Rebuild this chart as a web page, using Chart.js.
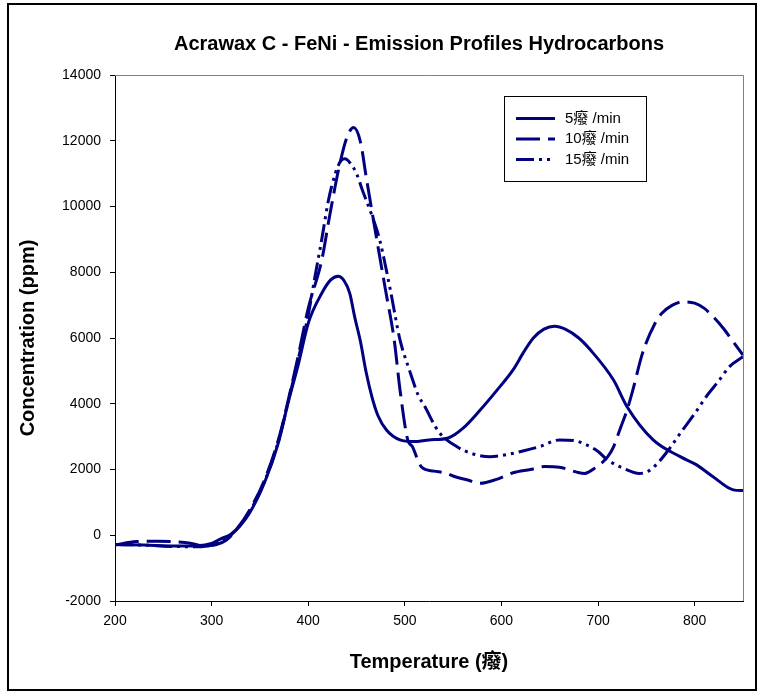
<!DOCTYPE html>
<html>
<head>
<meta charset="utf-8">
<script src="https://cdn.jsdelivr.net/npm/chart.js@4.4.1/dist/chart.umd.min.js"></script>
<style>
  html, body { margin: 0; padding: 0; background: #fff; }
  #wrap { width: 764px; height: 692px; }
</style>
</head>
<body>
<div id="wrap"><canvas id="c" width="764" height="692"></canvas></div>
<script>
// ---- data ----
const chartTitle = 'Acrawax C - FeNi - Emission Profiles Hydrocarbons';
const xTitle = 'Temperature (癈)';
const yTitle = 'Concentration (ppm)';
const seriesLabels = ['5癈 /min', '10癈 /min', '15癈 /min'];

const temp5 = [200, 230, 260, 285, 300, 310, 320, 338, 355, 369, 379, 390, 400, 414, 423, 431, 437, 443, 448, 454, 460, 466, 472, 481, 495, 509, 525, 545, 560, 578, 595, 612, 623, 633, 644, 655, 666, 680, 692, 716, 730, 757, 785, 802, 819, 840, 850];
const conc5 = [-280, -300, -330, -320, -250, -100, 30, 620, 1620, 2800, 4010, 5230, 6450, 7360, 7760, 7880, 7750, 7360, 6650, 5900, 4950, 4200, 3650, 3200, 2900, 2850, 2900, 2960, 3250, 3810, 4400, 5030, 5570, 6000, 6270, 6360, 6270, 6000, 5640, 4720, 3910, 2900, 2390, 2140, 1780, 1380, 1360];

const temp10 = [200, 222, 245, 258, 278, 292, 305, 315, 325, 340, 355, 370, 380, 390, 400, 414, 422, 432, 440, 447, 454, 460, 471, 480, 489, 495, 503, 508, 512, 517, 530, 541, 552, 565, 578, 595, 612, 630, 645, 660, 678, 686, 697, 710, 716, 723, 730, 736, 746, 759, 766, 777, 788, 800, 810, 820, 830, 840, 850];
const conc10 = [-300, -190, -180, -190, -240, -320, -280, -150, 150, 800, 1700, 3000, 4200, 5500, 6900, 8370, 9690, 11200, 12100, 12400, 11970, 10900, 8980, 7460, 5940, 4420, 2900, 2690, 2390, 2085, 1950, 1900, 1780, 1680, 1580, 1700, 1900, 2000, 2090, 2070, 1920, 1880, 2050, 2390, 2690, 3250, 3810, 4420, 5540, 6450, 6750, 7000, 7100, 7060, 6900, 6620, 6280, 5880, 5480];

const temp15 = [200, 230, 260, 285, 300, 310, 320, 340, 355, 370, 380, 390, 400, 407, 414, 421, 428, 434, 438, 444, 450, 456, 465, 474, 485, 495, 505, 514, 520, 535, 554, 570, 588, 605, 619, 640, 660, 675, 688, 700, 709, 726, 743, 752, 761, 773, 785, 800, 812, 825, 836, 850];
const conc15 = [-280, -300, -340, -350, -300, -150, 0, 750, 1650, 2950, 4150, 5400, 6700, 7870, 9000, 10200, 11000, 11400, 11450, 11300, 11000, 10500, 9800, 8980, 7460, 5940, 5000, 4250, 3950, 3150, 2690, 2480, 2390, 2450, 2540, 2700, 2900, 2880, 2750, 2550, 2310, 2040, 1880, 1950, 2170, 2600, 3100, 3700, 4220, 4700, 5130, 5430];

const xMin = 200, xMax = 850, xStep = 100;
const yMin = -2000, yMax = 14000, yStep = 2000;

// ---- styling ----
const FONT = "'Liberation Sans', Arial, 'Noto Sans CJK SC', sans-serif";
const NAVY = '#000080';
const dashes = [[], [24, 8], [18, 5, 3, 5, 3, 5]];

function pts(xs, ys) { return xs.map((x, i) => ({ x: x, y: ys[i] })); }

const datasets = [
  [temp5, conc5], [temp10, conc10], [temp15, conc15]
].map((s, i) => ({
  label: seriesLabels[i],
  data: pts(s[0], s[1]),
  borderColor: NAVY,
  backgroundColor: NAVY,
  borderWidth: 3,
  borderDash: dashes[i],
  pointRadius: 0,
  fill: false,
  cubicInterpolationMode: 'monotone',
  borderCapStyle: 'butt'
}));

const decor = {
  id: 'decor',
  afterDraw(chart) {
    const ctx = chart.ctx;
    const a = chart.chartArea;
    ctx.save();
    // plot frame (top/right)
    ctx.strokeStyle = '#808080';
    ctx.lineWidth = 1;
    ctx.setLineDash([]);
    ctx.beginPath();
    ctx.moveTo(a.left, a.top + 0.5);
    ctx.lineTo(a.right + 0.5, a.top + 0.5);
    ctx.lineTo(a.right + 0.5, a.bottom);
    ctx.stroke();
    // outer border
    ctx.strokeStyle = '#000';
    ctx.lineWidth = 2;
    ctx.strokeRect(8, 4, 748, 686);
    // title
    ctx.fillStyle = '#000';
    ctx.font = 'bold 20px ' + FONT;
    ctx.textAlign = 'center';
    ctx.textBaseline = 'middle';
    ctx.fillText(chartTitle, 419, 44);
    // legend
    ctx.fillStyle = '#fff';
    ctx.fillRect(504.5, 96.5, 142, 85);
    ctx.strokeStyle = '#000';
    ctx.lineWidth = 1;
    ctx.strokeRect(504.5, 96.5, 142, 85);
    chart.data.datasets.forEach((ds, i) => {
      const y = 118.5 + i * 20.5;
      ctx.strokeStyle = ds.borderColor;
      ctx.lineWidth = 3;
      ctx.setLineDash(ds.borderDash);
      ctx.beginPath();
      ctx.moveTo(516, y);
      ctx.lineTo(555, y);
      ctx.stroke();
      ctx.setLineDash([]);
      ctx.fillStyle = '#000';
      ctx.font = '15px ' + FONT;
      ctx.textAlign = 'left';
      ctx.fillText(ds.label, 565, y);
    });
    ctx.restore();
  }
};

new Chart(document.getElementById('c'), {
  type: 'line',
  data: { datasets: datasets },
  options: {
    responsive: false,
    animation: false,
    devicePixelRatio: 1,
    layout: { padding: { top: 75, right: 21, left: 0, bottom: 0 } },
    plugins: { legend: { display: false }, title: { display: false }, tooltip: { enabled: false } },
    scales: {
      x: {
        type: 'linear', min: xMin, max: xMax,
        ticks: { stepSize: xStep, includeBounds: false, color: '#000', padding: 7, font: { family: FONT, size: 14 }, callback: v => String(v) },
        grid: { drawOnChartArea: false, drawTicks: true, tickLength: 5, color: '#000' },
        border: { color: '#000', width: 1 },
        title: { display: true, text: xTitle, color: '#000', font: { family: FONT, size: 20, weight: 'bold' }, padding: { top: 0, bottom: 18 } },
        afterFit: s => { s.height = 91; }
      },
      y: {
        type: 'linear', min: yMin, max: yMax,
        ticks: { stepSize: yStep, color: '#000', padding: 9, font: { family: FONT, size: 14 }, callback: v => String(v) },
        grid: { drawOnChartArea: false, drawTicks: true, tickLength: 5, color: '#000' },
        border: { color: '#000', width: 1 },
        title: { display: true, text: yTitle, color: '#000', font: { family: FONT, size: 20, weight: 'bold' }, padding: { top: 16, bottom: 0 } },
        afterFit: s => { s.width = 115; }
      }
    }
  },
  plugins: [decor]
});
</script>
</body>
</html>
